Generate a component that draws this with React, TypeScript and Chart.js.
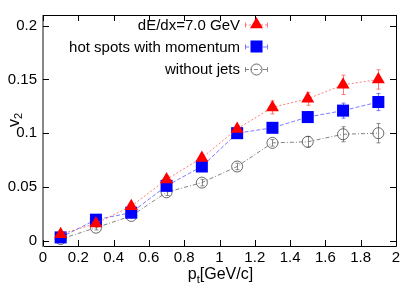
import React, { useEffect, useRef } from "react";
import { Chart, registerables } from "chart.js";

Chart.register(...registerables);

const ptValues = [0.1, 0.3, 0.5, 0.7, 0.9, 1.1, 1.3, 1.5, 1.7, 1.9];
const dEdxV2 = [0.006, 0.016, 0.032, 0.057, 0.077, 0.104, 0.124, 0.132, 0.145, 0.15];
const dEdxErr = [0.002, 0.002, 0.002, 0.003, 0.003, 0.003, 0.006, 0.006, 0.009, 0.009];
const hotSpotsV2 = [0.003, 0.0195, 0.026, 0.051, 0.069, 0.1, 0.105, 0.115, 0.121, 0.129];
const hotSpotsErr = [0.002, 0.002, 0.002, 0.003, 0.003, 0.003, 0.004, 0.005, 0.007, 0.008];
const noJetsV2 = [0.0015, 0.012, 0.023, 0.045, 0.054, 0.069, 0.091, 0.092, 0.099, 0.1];
const noJetsErr = [0.002, 0.002, 0.002, 0.003, 0.003, 0.003, 0.003, 0.005, 0.007, 0.009];
const xTicks = [0, 0.2, 0.4, 0.6, 0.8, 1, 1.2, 1.4, 1.6, 1.8, 2];
const yTicks = [0, 0.05, 0.1, 0.15, 0.2];
const seriesLabels = ["dE/dx=7.0 GeV", "hot spots with momentum", "without jets"];

const FONT = "'Liberation Sans', Arial, sans-serif";

const errs = [dEdxErr, hotSpotsErr, noJetsErr];
const errColors = ["rgba(255,90,90,0.8)", "rgba(90,90,255,0.8)", "rgba(110,110,110,0.8)"];

export default function App() {
  const ref = useRef<HTMLCanvasElement | null>(null);
  useEffect(() => {
    document.body.style.margin = "0";
    const canvas = ref.current;
    if (!canvas) return;

    const frame = {
      id: "frame",
      beforeDatasetsDraw(chart: any) {
        const { ctx, scales } = chart;
        ctx.save();
        chart.data.datasets.forEach((ds: any, di: number) => {
          ctx.strokeStyle = errColors[di];
          ctx.lineWidth = 1;
          ds.data.forEach((p: any, i: number) => {
            const x = Math.round(scales.x.getPixelForValue(p.x)) + 0.5;
            const y1 = scales.y.getPixelForValue(p.y - errs[di][i]);
            const y2 = scales.y.getPixelForValue(p.y + errs[di][i]);
            ctx.beginPath();
            ctx.moveTo(x, y1);
            ctx.lineTo(x, y2);
            ctx.moveTo(x - 2, y1);
            ctx.lineTo(x + 2, y1);
            ctx.moveTo(x - 2, y2);
            ctx.lineTo(x + 2, y2);
            ctx.stroke();
          });
        });
        ctx.restore();
      },
      afterDraw(chart: any) {
        const { ctx, chartArea: a, scales } = chart;
        ctx.save();
        ctx.strokeStyle = "#000";
        ctx.lineWidth = 1;
        ctx.beginPath();
        ctx.moveTo(a.left, a.top + 0.5);
        ctx.lineTo(a.right + 0.5, a.top + 0.5);
        ctx.lineTo(a.right + 0.5, a.bottom + 0.5);
        ctx.lineTo(a.left, a.bottom + 0.5);
        ctx.stroke();
        ctx.strokeStyle = "#888";
        ctx.lineWidth = 2;
        ctx.beginPath();
        ctx.moveTo(a.left, a.top);
        ctx.lineTo(a.left, a.bottom + 1);
        ctx.stroke();
        ctx.strokeStyle = "#000";
        ctx.lineWidth = 1;
        const t = 6;
        ctx.beginPath();
        xTicks.forEach((v) => {
          const x = Math.round(scales.x.getPixelForValue(v)) + 0.5;
          ctx.moveTo(x, a.bottom);
          ctx.lineTo(x, a.bottom - t);
          ctx.moveTo(x, a.top);
          ctx.lineTo(x, a.top + t);
        });
        yTicks.forEach((v) => {
          const y = Math.round(scales.y.getPixelForValue(v)) + 0.5;
          ctx.moveTo(a.left, y);
          ctx.lineTo(a.left + t, y);
          ctx.moveTo(a.right, y);
          ctx.lineTo(a.right - t, y);
        });
        ctx.stroke();

        // x title
        ctx.fillStyle = "#000";
        ctx.textBaseline = "alphabetic";
        ctx.textAlign = "left";
        const big = `16px ${FONT}`;
        const small = `11px ${FONT}`;
        ctx.font = big;
        const w1 = ctx.measureText("p").width;
        const w2 = ctx.measureText("[GeV/c]").width;
        ctx.font = small;
        const ws = ctx.measureText("t").width;
        const sx = (a.left + a.right) / 2 - (w1 + ws + w2) / 2 + 1;
        const by = 279;
        ctx.font = big;
        ctx.fillText("p", sx, by);
        ctx.font = small;
        ctx.fillText("t", sx + w1, by + 4);
        ctx.font = big;
        ctx.fillText("[GeV/c]", sx + w1 + ws, by);

        // y title
        ctx.save();
        ctx.translate(19, 120);
        ctx.rotate(-Math.PI / 2);
        ctx.font = big;
        const vw = ctx.measureText("v").width;
        ctx.font = small;
        const tw = ctx.measureText("2").width;
        const st = -(vw + tw) / 2;
        ctx.font = big;
        ctx.fillText("v", st, 0);
        ctx.font = small;
        ctx.fillText("2", st + vw, 3);
        ctx.restore();

        // legend
        const rows = [24.5, 46.5, 69];
        chart.data.datasets.forEach((ds: any, i: number) => {
          const y = rows[i];
          ctx.font = `15px ${FONT}`;
          ctx.textAlign = "right";
          ctx.textBaseline = "middle";
          ctx.fillStyle = "#000";
          ctx.fillText(seriesLabels[i], 240, y + 1);
          ctx.strokeStyle = ds.borderColor;
          ctx.setLineDash(ds.borderDash || []);
          ctx.lineWidth = 1;
          ctx.beginPath();
          ctx.moveTo(245, y + 0.5);
          ctx.lineTo(268, y + 0.5);
          ctx.stroke();
          ctx.setLineDash([]);
          ctx.strokeStyle = errColors[i];
          ctx.beginPath();
          ctx.moveTo(245.5, y - 2);
          ctx.lineTo(245.5, y + 3);
          ctx.moveTo(267.5, y - 2);
          ctx.lineTo(267.5, y + 3);
          ctx.stroke();
          ctx.fillStyle = ds.pointBackgroundColor;
          ctx.strokeStyle = ds.pointBorderColor;
          ctx.lineWidth = ds.pointBorderWidth || 1;
          const cx = 256.5;
          if (ds.pointStyle === "triangle") {
            const r = ds.pointRadius;
            ctx.beginPath();
            ctx.moveTo(cx, y - r);
            ctx.lineTo(cx + r * 0.866, y + r * 0.5);
            ctx.lineTo(cx - r * 0.866, y + r * 0.5);
            ctx.closePath();
            ctx.fill();
          } else if (ds.pointStyle === "rect") {
            const s = ds.pointRadius * Math.SQRT1_2;
            ctx.fillRect(cx - s, y - s, 2 * s, 2 * s);
          } else {
            ctx.beginPath();
            ctx.arc(cx, y + 0.5, ds.pointRadius, 0, Math.PI * 2);
            ctx.stroke();
          }
        });
        ctx.restore();
      },
    };

    const mk = (vals: number[]) => vals.map((v, i) => ({ x: ptValues[i], y: v }));

    const chart = new Chart(canvas, {
      type: "line",
      data: {
        datasets: [
          {
            label: seriesLabels[0],
            data: mk(dEdxV2),
            borderColor: "rgba(255,80,80,0.75)",
            borderWidth: 1,
            borderDash: [2, 2],
            pointStyle: "triangle",
            pointRadius: 7.5,
            pointBackgroundColor: "#ff0000",
            pointBorderColor: "#ff0000",
            pointBorderWidth: 0,
          },
          {
            label: seriesLabels[1],
            data: mk(hotSpotsV2),
            borderColor: "rgba(80,80,255,0.75)",
            borderWidth: 1,
            borderDash: [4, 2],
            pointStyle: "rect",
            pointRadius: 8.5,
            pointBackgroundColor: "#0000ff",
            pointBorderColor: "#0000ff",
            pointBorderWidth: 0,
          },
          {
            label: seriesLabels[2],
            data: mk(noJetsV2),
            borderColor: "rgba(100,100,100,0.8)",
            borderWidth: 1,
            borderDash: [4, 2, 1, 2],
            pointStyle: "circle",
            pointRadius: 5.5,
            pointBackgroundColor: "rgba(0,0,0,0)",
            pointBorderColor: "#444",
            pointBorderWidth: 0.8,
          },
        ] as any,
      },
      options: {
        animation: false,
        responsive: false,
        maintainAspectRatio: false,
        layout: { padding: { top: 10, right: 15, left: 0, bottom: 0 } },
        plugins: { legend: { display: false }, tooltip: { enabled: false } },
        scales: {
          x: {
            type: "linear",
            min: 0,
            max: 2,
            afterFit: (s: any) => {
              s.height = 42;
            },
            afterBuildTicks: (s: any) => {
              s.ticks = xTicks.map((v) => ({ value: v }));
            },
            ticks: {
              color: "#000",
              font: { family: FONT, size: 15 },
              padding: 3,
              maxRotation: 0,
              autoSkip: false,
              callback: (v: any) => String(Math.round(Number(v) * 10) / 10),
            },
            grid: { display: false, drawTicks: false },
            border: { display: false },
          },
          y: {
            type: "linear",
            min: -0.005,
            max: 0.21,
            afterFit: (s: any) => {
              s.width = 43;
            },
            afterBuildTicks: (s: any) => {
              s.ticks = yTicks.map((v) => ({ value: v }));
            },
            ticks: {
              color: "#000",
              font: { family: FONT, size: 15 },
              padding: 6,
              autoSkip: false,
              callback: (v: any) => String(Math.round(Number(v) * 100) / 100),
            },
            grid: { display: false, drawTicks: false },
            border: { display: false },
          },
        },
      },
      plugins: [frame],
    });
    return () => chart.destroy();
  }, []);
  return (
    <div style={{ width: 411, height: 288 }}>
      <canvas ref={ref} width={411} height={288} style={{ width: 411, height: 288 }} />
    </div>
  );
}
